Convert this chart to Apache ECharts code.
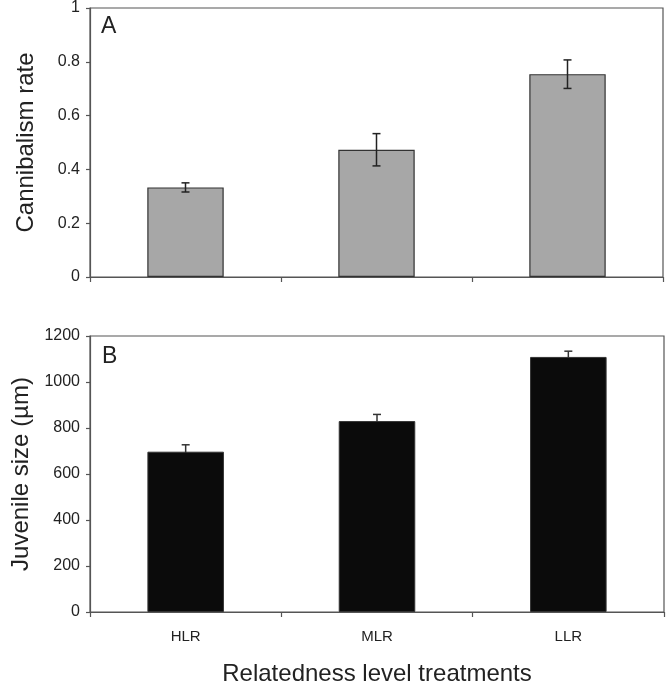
<!DOCTYPE html>
<html><head><meta charset="utf-8">
<script src="https://cdn.jsdelivr.net/npm/echarts@6/dist/echarts.min.js"></script>
<style>html,body{margin:0;padding:0;background:#fff}#c{width:672px;height:688px}</style>
</head><body><div id="c"></div>
<script>
const categories = ['HLR', 'MLR', 'LLR'];
const cannibalismRate = [0.333, 0.473, 0.754];
const cannibalismErr = [0.017, 0.060, 0.053];
const juvenileSize = [697, 830, 1109];
const juvenileErr = [30, 29, 25];
const rateTicks = {min: 0, max: 1, interval: 0.2};
const sizeTicks = {min: 0, max: 1200, interval: 200};

const FONT = '"Liberation Sans", Arial, sans-serif';
const chart = echarts.init(document.getElementById('c'), null, {renderer: 'canvas'});

function errSeries(idx, vals, errs, color, z) {
  return {
    type: 'custom', xAxisIndex: idx, yAxisIndex: idx, z: z,
    data: vals.map((v, i) => [i, v, errs[i]]),
    renderItem: function (params, api) {
      const x = api.value(0), v = api.value(1), e = api.value(2);
      const hi = api.coord([x, v + e]);
      const lo = api.coord([x, v - e]);
      const w = 4;
      const st = {stroke: color, lineWidth: 1.5};
      return {type: 'group', children: [
        {type: 'line', shape: {x1: hi[0], y1: hi[1], x2: lo[0], y2: lo[1]}, style: st},
        {type: 'line', shape: {x1: hi[0] - w, y1: hi[1], x2: hi[0] + w, y2: hi[1]}, style: st},
        {type: 'line', shape: {x1: lo[0] - w, y1: lo[1], x2: lo[0] + w, y2: lo[1]}, style: st}
      ]};
    }
  };
}

const axisLineStyle = {color: '#555', width: 1.2};
function xAx(idx, showLabels) {
  return {
    type: 'category', gridIndex: idx, data: categories, boundaryGap: true,
    axisLine: {show: true, lineStyle: axisLineStyle},
    axisTick: {show: true, inside: false, length: 5, alignWithLabel: false, lineStyle: axisLineStyle},
    axisLabel: {show: showLabels, fontFamily: FONT, fontSize: 15, color: '#222', margin: 17},
    name: showLabels ? 'Relatedness level treatments' : '',
    nameLocation: 'middle', nameGap: 50,
    nameTextStyle: {fontFamily: FONT, fontSize: 24, color: '#222'},
    splitLine: {show: false}
  };
}
function yAx(idx, ticks, name) {
  return {
    type: 'value', gridIndex: idx, min: ticks.min, max: ticks.max, interval: ticks.interval,
    axisLine: {show: true, lineStyle: axisLineStyle},
    axisTick: {show: true, inside: false, length: 4, lineStyle: axisLineStyle},
    axisLabel: {fontFamily: FONT, fontSize: 16, color: '#222', margin: 10,
                formatter: v => String(Math.round(v * 1000) / 1000)},
    splitLine: {show: false},
    name: name, nameLocation: 'middle', nameGap: 52, nameRotate: 90,
    nameTextStyle: {fontFamily: FONT, fontSize: 24, color: '#222'}
  };
}

chart.setOption({
  animation: false,
  backgroundColor: '#fff',
  grid: [
    {left: 90, top: 8, width: 573, height: 269, show: true, borderColor: '#555', borderWidth: 1.2, backgroundColor: 'transparent'},
    {left: 90, top: 336, width: 574, height: 276, show: true, borderColor: '#555', borderWidth: 1.2, backgroundColor: 'transparent'}
  ],
  xAxis: [xAx(0, false), xAx(1, true)],
  yAxis: [yAx(0, rateTicks, 'Cannibalism rate'), yAx(1, sizeTicks, 'Juvenile size (µm)')],
  graphic: [
    {type: 'text', left: 101, top: 15, style: {text: 'A', font: '23px ' + FONT, fill: '#222'}},
    {type: 'text', left: 102, top: 345, style: {text: 'B', font: '23px ' + FONT, fill: '#222'}}
  ],
  series: [
    {type: 'bar', xAxisIndex: 0, yAxisIndex: 0, data: cannibalismRate, barWidth: '40%', z: 2,
     itemStyle: {color: '#a7a7a7', borderColor: '#333', borderWidth: 1.2}},
    errSeries(0, cannibalismRate, cannibalismErr, '#222', 10),
    {type: 'bar', xAxisIndex: 1, yAxisIndex: 1, data: juvenileSize, barWidth: '40%', z: 5,
     itemStyle: {color: '#0b0b0b', borderColor: '#333', borderWidth: 1}},
    errSeries(1, juvenileSize, juvenileErr, '#333', 1)
  ]
});
</script></body></html>
